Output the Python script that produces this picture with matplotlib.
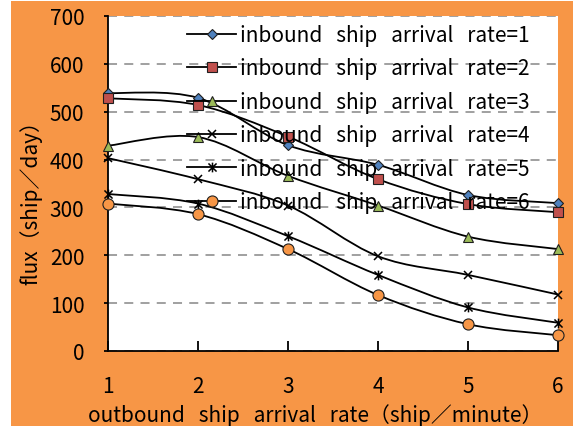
import matplotlib
matplotlib.use("Agg")
import matplotlib.pyplot as plt
from matplotlib.path import Path
from matplotlib.patches import PathPatch, Rectangle
from matplotlib.lines import Line2D
import numpy as np

plt.rcParams['font.family'] = ['Noto Sans CJK SC', 'DejaVu Sans']

x_rates = [1, 2, 3, 4, 5, 6]
rate1 = [539, 529, 430, 389, 326, 309]
rate2 = [528, 514, 448, 359, 307, 290]
rate3 = [429, 447, 366, 304, 239, 213]
rate4 = [403, 359, 304, 198, 159, 118]
rate5 = [328, 308, 240, 159, 91, 59]
rate6 = [308, 286, 213, 117, 56, 33]
labels = ["inbound   ship   arrival   rate=%d" % i for i in range(1, 7)]
series = [rate1, rate2, rate3, rate4, rate5, rate6]

star_marker = Path([(-1, -1), (1, 1), (-1, 1), (1, -1), (0, -1.2), (0, 1.2)],
                   [Path.MOVETO, Path.LINETO, Path.MOVETO, Path.LINETO, Path.MOVETO, Path.LINETO])

styles = [
    dict(marker='D', markersize=5.5, markerfacecolor='#4F81BD', markeredgecolor='#1F1F1F', markeredgewidth=0.8),
    dict(marker='s', markersize=7.5, markerfacecolor='#C0504D', markeredgecolor='#1F1F1F', markeredgewidth=0.8),
    dict(marker='^', markersize=7.5, markerfacecolor='#9BBB59', markeredgecolor='#1F1F1F', markeredgewidth=0.8),
    dict(marker='x', markersize=6, markeredgecolor='black', markeredgewidth=1.1),
    dict(marker=star_marker, markersize=7, markeredgecolor='black', markeredgewidth=1.1),
    dict(marker='o', markersize=8, markerfacecolor='#F79646', markeredgecolor='#1F1F1F', markeredgewidth=0.8),
]

FS = 15

fig = plt.figure(figsize=(5.73, 4.27), dpi=100)
fig.patch.set_facecolor('white')
fig.patches.append(Rectangle((11 / 573, 0), 1, 1 - 2 / 427, transform=fig.transFigure,
                             facecolor='#F79646', edgecolor='none', zorder=-10))

ax = fig.add_axes([108 / 573, 1 - 352 / 427, 450 / 573, 335 / 427])
ax.set_facecolor('white')


def smooth_path(xs, ys):
    pts = np.column_stack([xs, ys]).astype(float)
    n = len(pts)
    verts = [pts[0]]
    codes = [Path.MOVETO]
    for i in range(n - 1):
        p0 = pts[i - 1] if i > 0 else pts[i]
        p1 = pts[i]
        p2 = pts[i + 1]
        p3 = pts[i + 2] if i + 2 < n else pts[i + 1]
        c1 = p1 + (p2 - p0) / 6.0
        c2 = p2 - (p3 - p1) / 6.0
        verts += [c1, c2, p2]
        codes += [Path.CURVE4] * 3
    return Path(verts, codes)


handles = []
for ys, st, lab in zip(series, styles, labels):
    patch = PathPatch(smooth_path(x_rates, ys), facecolor='none', edgecolor='black',
                      linewidth=1.3, zorder=3)
    ax.add_patch(patch)
    ax.plot(x_rates, ys, linestyle='none', zorder=4, clip_on=False, **st)
    handles.append(Line2D([], [], color='black', linewidth=1.3, **st))

ax.set_xlim(1, 6)
ax.set_ylim(0, 700)
ax.set_xticks(x_rates)
ax.set_yticks(range(0, 701, 100))
ax.yaxis.grid(True, linestyle=(0, (5, 4)), color='#999999', linewidth=1.3)
ax.set_axisbelow(True)
for s in ['top', 'right']:
    ax.spines[s].set_visible(False)
ax.spines['left'].set_linewidth(1.3)
ax.spines['bottom'].set_linewidth(1.3)
ax.tick_params(axis='x', direction='in', length=7, width=1.3, labelsize=FS, pad=17)
ax.tick_params(axis='y', direction='out', length=3, width=1.3, labelsize=FS, pad=14)

ax.set_xlabel("outbound   ship   arrival   rate（ship／minute）", fontsize=FS)
ax.set_ylabel("flux（ship／day）", fontsize=FS)
ax.xaxis.set_label_coords(0.46, -0.155)
ax.yaxis.set_label_coords(-0.145, 0.46)

leg = ax.legend(handles=handles, labels=labels, loc='upper left',
                bbox_to_anchor=((187 - 108) / 450 - 0.032, 1.02), frameon=False,
                fontsize=FS, handlelength=2.35, handletextpad=0.2, labelspacing=0.55,
                borderpad=0.2)

fig.savefig("out.png", dpi=100, facecolor=fig.get_facecolor())
